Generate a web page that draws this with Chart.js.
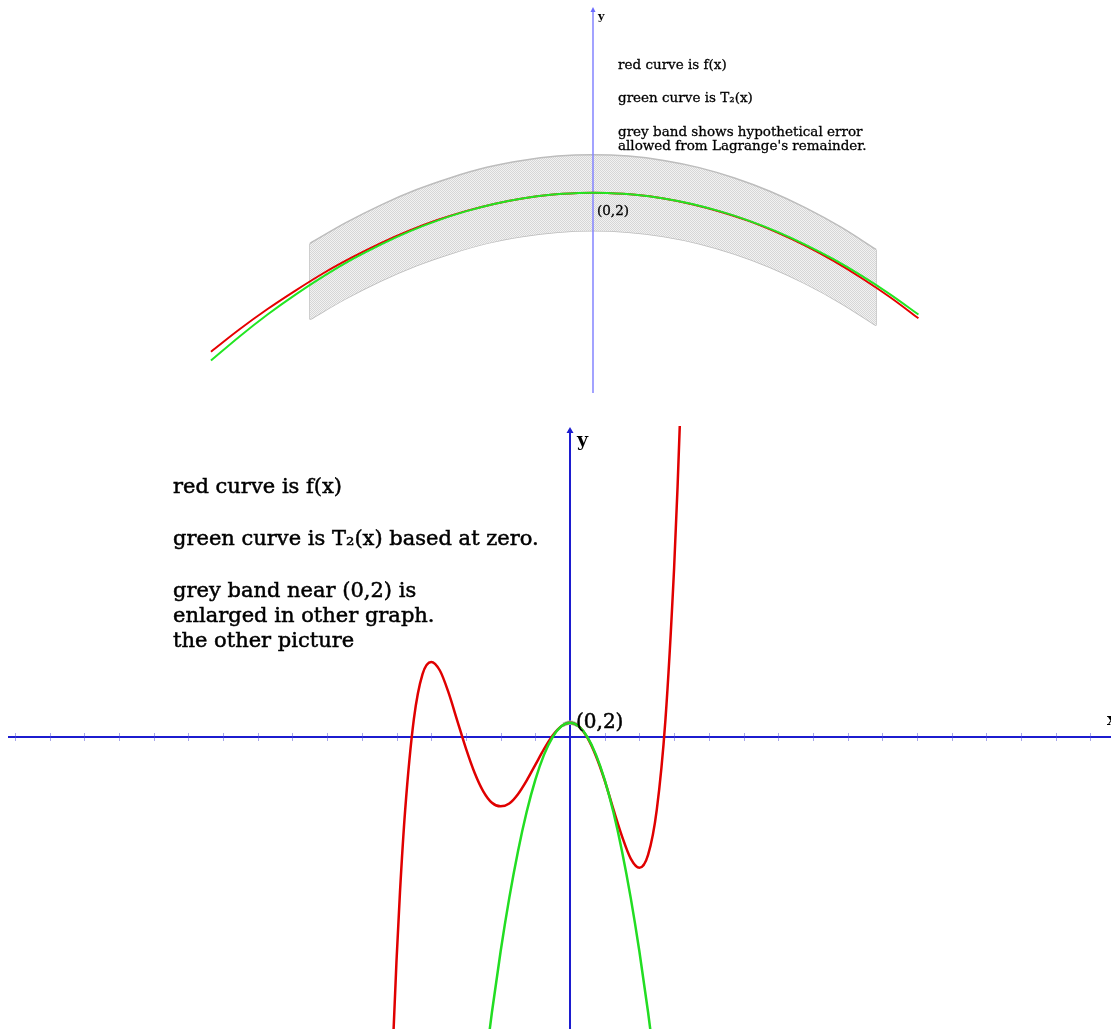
<!DOCTYPE html>
<html>
<head>
<meta charset="utf-8">
<script src="https://cdn.jsdelivr.net/npm/chart.js@4.4.0/dist/chart.umd.min.js"></script>
<style>
body{margin:0;background:#fff;width:1111px;height:1029px;position:relative;overflow:hidden;}
canvas{position:absolute;left:0;}
#zoomed{top:0;}
#whole{top:426px;}
</style>
</head>
<body>
<canvas id="zoomed" width="1111" height="400"></canvas>
<canvas id="whole" width="1111" height="603"></canvas>
<script>
// enlarged picture near (0,2)
var zoomX = [-0.27,-0.25,-0.23,-0.21,-0.19,-0.17,-0.15,-0.13,-0.11,-0.09,-0.07,-0.05,-0.03,-0.01,0,0.01,0.03,0.05,0.07,0.09,0.11,0.13,0.15,0.17,0.19,0.21,0.23];
var zoomF = [1.448,1.525,1.596,1.661,1.722,1.776,1.825,1.868,1.905,1.936,1.961,1.980,1.993,1.999,2,1.999,1.993,1.980,1.960,1.934,1.902,1.862,1.816,1.763,1.703,1.637,1.564];
var zoomT2 = [1.417,1.5,1.577,1.647,1.711,1.769,1.82,1.865,1.903,1.935,1.961,1.98,1.993,1.999,2,1.999,1.993,1.98,1.961,1.935,1.903,1.865,1.82,1.769,1.711,1.647,1.577];
var bandX = [-0.2,-0.175,-0.15,-0.125,-0.1,-0.075,-0.05,-0.025,0,0.025,0.05,0.075,0.1,0.125,0.15,0.175,0.2];
var bandUpper = [1.824,1.895,1.957,2.010,2.053,2.088,2.112,2.127,2.132,2.127,2.112,2.087,2.051,2.005,1.948,1.881,1.803];
var bandLower = [1.560,1.631,1.693,1.746,1.789,1.824,1.848,1.863,1.868,1.863,1.848,1.823,1.787,1.741,1.684,1.617,1.539];

// whole graph
var wideX = [-5.2,-5.1,-5,-4.9,-4.75,-4.5,-4.25,-4,-3.75,-3.5,-3.25,-3,-2.75,-2.5,-2.25,-2,-1.75,-1.5,-1.25,-1,-0.75,-0.5,-0.25,0,0.25,0.5,0.75,1,1.25,1.5,1.75,2,2.25,2.5,2.75,3,3.1,3.2,3.3];
var wideF = [-56.1,-42.7,-31.3,-21.7,-10.2,2.5,8.8,10.5,9.3,6.2,2.3,-1.6,-5.0,-7.6,-9.2,-9.7,-9.3,-8.0,-6.1,-3.9,-1.7,0.2,1.5,2,1.5,-0.1,-2.7,-6.1,-10.1,-13.9,-17.0,-18.3,-16.5,-10.2,2.4,23.6,35.0,48.4,63.8];
var greenX = [-2.5,-2.25,-2,-1.75,-1.5,-1.25,-1,-0.75,-0.5,-0.25,0,0.25,0.5,0.75,1,1.25,1.5,1.75,2,2.25,2.5];
var greenT2 = [-48,-38.5,-30,-22.5,-16,-10.5,-6,-2.5,0,1.5,2,1.5,0,-2.5,-6,-10.5,-16,-22.5,-30,-38.5,-48];
var xTicks = [-16,-15,-14,-13,-12,-11,-10,-9,-8,-7,-6,-5,-4,-3,-2,-1,1,2,3,4,5,6,7,8,9,10,11,12,13,14,15];

var serif = '"DejaVu Serif", "Liberation Serif", serif';

function pts(xs, ys){
  return xs.map(function(x, i){ return {x: x, y: ys[i]}; });
}
function edge(i){
  return [{x: bandX[i], y: bandUpper[i]}, {x: bandX[i], y: bandLower[i]}];
}
function hatchFor(canvas){
  var pc = document.createElement('canvas');
  pc.width = 2; pc.height = 2;
  var c = pc.getContext('2d');
  c.fillStyle = '#f2f2f2'; c.fillRect(0,0,2,2);
  c.fillStyle = '#d6d6d6'; c.fillRect(0,0,1,1); c.fillRect(1,1,1,1);
  return canvas.getContext('2d').createPattern(pc, 'repeat');
}
function bandSets(fillStyle, lineColor, lineWidth){
  var common = {showLine:true, borderColor:lineColor, borderWidth:lineWidth, order:5};
  return [
    Object.assign({label:'band top', data:pts(bandX, bandUpper), fill:'+1', backgroundColor:fillStyle, cubicInterpolationMode:'monotone'}, common),
    Object.assign({label:'band bottom', data:pts(bandX, bandLower), fill:false, cubicInterpolationMode:'monotone'}, common),
    Object.assign({label:'band left', data:edge(0), fill:false}, common),
    Object.assign({label:'band right', data:edge(bandX.length - 1), fill:false}, common)
  ];
}
function baseOptions(xmin, xmax, ymin, ymax){
  return {
    responsive:false,
    animation:false,
    layout:{padding:0},
    plugins:{legend:{display:false}, tooltip:{enabled:false}},
    scales:{
      x:{type:'linear', min:xmin, max:xmax, display:false},
      y:{type:'linear', min:ymin, max:ymax, display:false}
    },
    elements:{point:{radius:0, hoverRadius:0}}
  };
}
function arrowUp(ctx, x, y, w, h){
  ctx.beginPath();
  ctx.moveTo(x, y);
  ctx.lineTo(x - w, y + h);
  ctx.lineTo(x + w, y + h);
  ctx.closePath();
  ctx.fill();
}
// heavier serif look, like the original schoolbook face
function heavyText(ctx, s, x, y, w){
  ctx.lineWidth = w;
  ctx.strokeText(s, x, y);
  ctx.fillText(s, x, y);
}

// ---------- top: enlarged ----------
var zoomCanvas = document.querySelector('#zoomed');
var zoomDecor = {
  id:'zoomDecor',
  afterDatasetDraw:function(chart, args){
    if(args.index !== 0) return;
    var ctx = chart.ctx;
    var x0 = chart.scales.x.getPixelForValue(0);
    ctx.save();
    ctx.strokeStyle = '#8484ff';
    ctx.fillStyle = '#6a6aff';
    ctx.lineWidth = 1.5;
    ctx.beginPath();
    ctx.moveTo(x0, 11);
    ctx.lineTo(x0, 393);
    ctx.stroke();
    arrowUp(ctx, x0, 7, 2.5, 5);
    ctx.restore();
  },
  afterDraw:function(chart){
    var ctx = chart.ctx;
    var px = chart.scales.x.getPixelForValue(0);
    var py = chart.scales.y.getPixelForValue(2);
    ctx.save();
    ctx.fillStyle = '#000';
    ctx.strokeStyle = '#000';
    ctx.textBaseline = 'middle';
    ctx.font = 'bold 11px ' + serif;
    ctx.fillText('y', px + 5, 17);
    ctx.font = '13.5px ' + serif;
    heavyText(ctx, 'red curve is f(x)', 618, 65, 0.3);
    heavyText(ctx, 'green curve is T\u2082(x)', 618, 98, 0.3);
    heavyText(ctx, 'grey band shows hypothetical error', 618, 132, 0.3);
    heavyText(ctx, "allowed from Lagrange's remainder.", 618, 146, 0.3);
    heavyText(ctx, '(0,2)', px + 4, py + 19, 0.3);
    ctx.restore();
  }
};
new Chart(zoomCanvas, {
  type:'scatter',
  data:{
    datasets:bandSets(hatchFor(zoomCanvas), '#bdbdbd', 1.5).concat([{
      label:'f(x)',
      data:pts(zoomX, zoomF),
      showLine:true,
      borderColor:'#e60000',
      borderWidth:2,
      fill:false,
      cubicInterpolationMode:'monotone',
      order:2
    },{
      label:'T2(x)',
      data:pts(zoomX, zoomT2),
      showLine:true,
      borderColor:'#22e622',
      borderWidth:2,
      fill:false,
      cubicInterpolationMode:'monotone',
      order:1
    }])
  },
  options:baseOptions(-0.4191, 0.3661, 1.2802, 2.669),
  plugins:[zoomDecor]
});

// ---------- bottom: whole graph ----------
var wholeCanvas = document.querySelector('#whole');
var wholeDecor = {
  id:'wholeDecor',
  beforeDatasetsDraw:function(chart){
    var ctx = chart.ctx;
    var xs = chart.scales.x, ys = chart.scales.y;
    var x0 = xs.getPixelForValue(0), y0 = ys.getPixelForValue(0);
    ctx.save();
    ctx.strokeStyle = '#1c1ccf';
    ctx.fillStyle = '#1c1ccf';
    ctx.lineWidth = 2;
    ctx.beginPath();
    ctx.moveTo(8, y0); ctx.lineTo(chart.width, y0);
    ctx.moveTo(x0, 5); ctx.lineTo(x0, chart.height);
    ctx.stroke();
    arrowUp(ctx, x0, 1, 3.5, 6);
    ctx.strokeStyle = 'rgba(80,80,215,0.5)';
    ctx.lineWidth = 1;
    ctx.beginPath();
    xTicks.forEach(function(t){
      var tx = Math.round(xs.getPixelForValue(t)) + 0.5;
      ctx.moveTo(tx, y0 - 4); ctx.lineTo(tx, y0 + 4);
    });
    ctx.stroke();
    ctx.restore();
  },
  afterDraw:function(chart){
    var ctx = chart.ctx;
    var px = chart.scales.x.getPixelForValue(0);
    var py = chart.scales.y.getPixelForValue(2);
    var y0 = chart.scales.y.getPixelForValue(0);
    ctx.save();
    ctx.fillStyle = '#000';
    ctx.strokeStyle = '#000';
    ctx.textBaseline = 'middle';
    ctx.font = 'bold 19px ' + serif;
    ctx.fillText('y', px + 7, 15);
    ctx.font = 'bold 16px ' + serif;
    ctx.fillText('x', 1107, y0 - 16);
    ctx.font = '21px ' + serif;
    heavyText(ctx, 'red curve is f(x)', 173, 62, 0.5);
    heavyText(ctx, 'green curve is T\u2082(x) based at zero.', 173, 114, 0.5);
    heavyText(ctx, 'grey band near (0,2) is', 173, 166, 0.5);
    heavyText(ctx, 'enlarged in other graph.', 173, 191, 0.5);
    heavyText(ctx, 'the other picture', 173, 216, 0.5);
    ctx.font = '20px ' + serif;
    heavyText(ctx, '(0,2)', px + 6, py, 0.5);
    ctx.restore();
  }
};
new Chart(wholeCanvas, {
  type:'scatter',
  data:{
    datasets:bandSets('#c4c4c4', '#b4b4b4', 2.5).concat([{
      label:'f(x)',
      data:pts(wideX, wideF),
      showLine:true,
      borderColor:'#e00000',
      borderWidth:2.5,
      fill:false,
      cubicInterpolationMode:'monotone',
      order:2
    },{
      label:'T2(x)',
      data:pts(greenX, greenT2),
      showLine:true,
      borderColor:'#22dd22',
      borderWidth:2.5,
      fill:false,
      cubicInterpolationMode:'monotone',
      order:1
    }])
  },
  options:baseOptions(-16.427, 15.591, -40.839, 43.497),
  plugins:[wholeDecor]
});
</script>
</body>
</html>
